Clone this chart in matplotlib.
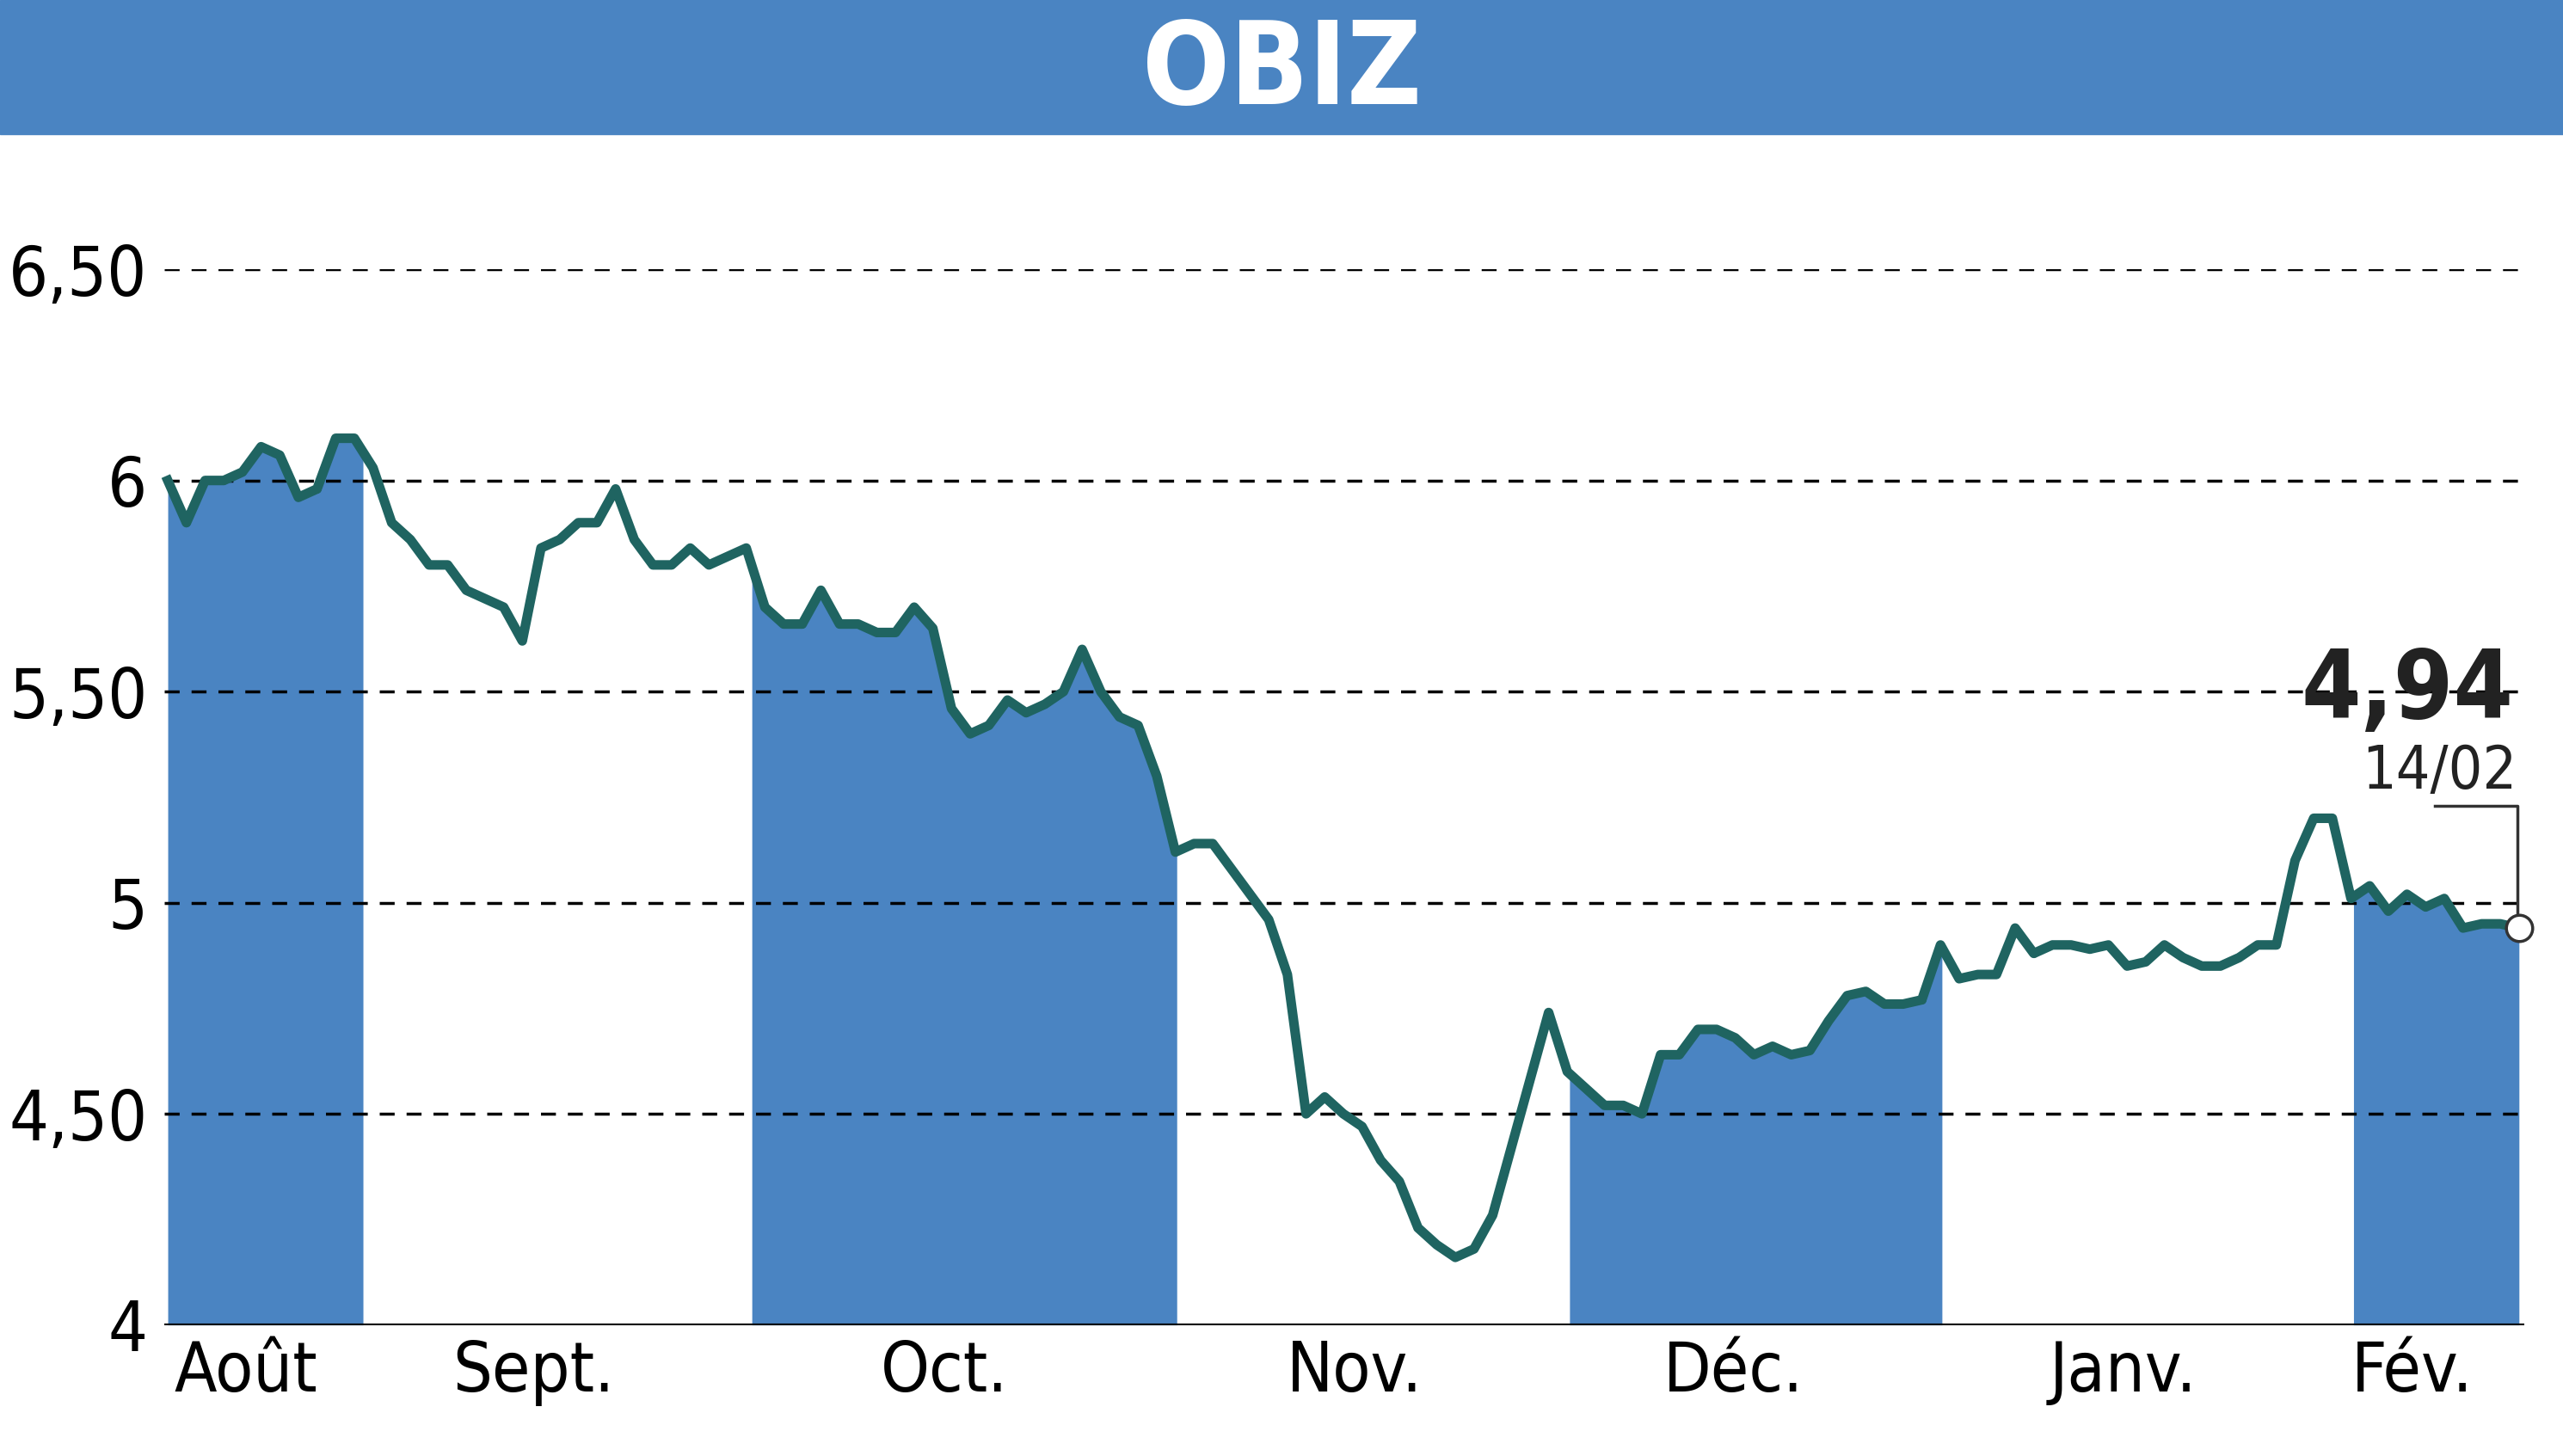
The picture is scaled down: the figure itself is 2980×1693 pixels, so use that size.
import matplotlib
matplotlib.use("Agg")
import matplotlib.pyplot as plt
import numpy as np

prices = [6.0,5.9,6.0,6.0,6.02,6.08,6.06,5.96,5.98,6.1,6.1,6.03,5.9,5.86,5.8,5.8,5.74,5.72,5.7,5.62,
          5.84,5.86,5.9,5.9,5.98,5.86,5.8,5.8,5.84,5.8,5.82,5.84,5.7,5.66,5.66,5.74,5.66,5.66,5.64,5.64,
          5.7,5.65,5.46,5.4,5.42,5.48,5.45,5.47,5.5,5.6,5.5,5.44,5.42,5.3,5.12,5.14,5.14,5.08,5.02,4.96,
          4.83,4.5,4.54,4.5,4.47,4.39,4.34,4.23,4.19,4.16,4.18,4.26,4.42,4.58,4.74,4.6,4.56,4.52,4.52,4.5,
          4.64,4.64,4.7,4.7,4.68,4.64,4.66,4.64,4.65,4.72,4.78,4.79,4.76,4.76,4.77,4.9,4.82,4.83,4.83,4.94,
          4.88,4.9,4.9,4.89,4.9,4.85,4.86,4.9,4.87,4.85,4.85,4.87,4.9,4.9,5.1,5.2,5.2,5.01,5.04,4.98,
          5.02,4.99,5.01,4.94,4.95,4.95,4.94]
month_labels = ["Août","Sept.","Oct.","Nov.","Déc.","Janv.","Fév."]
month_pos = [4.2,19.6,41.6,63.6,83.9,104.8,120.3]
shaded = [(-0.2,10.5),(31.3,54.1),(75.1,95.1),(117.1,126.0)]
yticks = [4,4.5,5,5.5,6,6.5]
ytick_labels = ["4","4,50","5","5,50","6","6,50"]

plt.rcParams['font.family'] = ['DejaVu Sans']
plt.rcParams['font.stretch'] = 'condensed'
blue = "#4a84c2"; green = "#1f6461"
fig = plt.figure(figsize=(29.8,16.93), dpi=100)
fig.patches.append(plt.Rectangle((0,1-82/890),1,82/890,transform=fig.transFigure,color=blue,zorder=0))
fig.text(0.5,1-44/890,"OBIZ",ha="center",va="center",color="white",fontsize=96,fontweight="bold")

ax = fig.add_axes([0.064,0.09,0.921,0.725])
x = np.arange(len(prices))
y = np.array(prices)
xf = np.linspace(0,len(prices)-1,3000)
yf = np.interp(xf,x,y)
for a,b in shaded:
    m = (xf>=a)&(xf<=b)
    ax.fill_between(xf,yf,4,where=m,color=blue,lw=0,zorder=1)
ax.plot(x,y,color=green,lw=8,zorder=3,clip_on=False,solid_joinstyle="round")
ax.plot(x,y,"o",color=green,ms=5,zorder=3,clip_on=False)
for t in yticks[1:]:
    ax.axhline(t,color="black",ls=(0,(5,4)),lw=2.5,zorder=2)
ax.axhline(4,color="black",lw=3,zorder=4)
ax.set_xlim(-0.2,len(prices)-0.7)
ax.set_ylim(4,6.5)
for s in ax.spines.values(): s.set_visible(False)
ax.set_yticks(yticks); ax.set_yticklabels(ytick_labels,fontsize=58)
ax.set_xticks(month_pos); ax.set_xticklabels(month_labels,fontsize=58)
ax.tick_params(length=0,pad=12)
ax.tick_params(axis='y',pad=14)
lx = len(prices)-1
ax.plot([lx],[y[-1]],"o",ms=22,mfc="white",mec="#333333",mew=2.5,zorder=5,clip_on=False)
ax.plot([lx-4.5,lx-0.1,lx-0.1],[5.23,5.23,y[-1]+0.02],color="#333333",lw=2.5,zorder=4,clip_on=False)
ax.text(lx-0.3,5.5,"4,94",ha="right",va="center",fontsize=80,fontweight="bold",color="#222222")
ax.text(lx-0.1,5.31,"14/02",ha="right",va="center",fontsize=50,color="#222222")
fig.savefig("out.png",dpi=100)
